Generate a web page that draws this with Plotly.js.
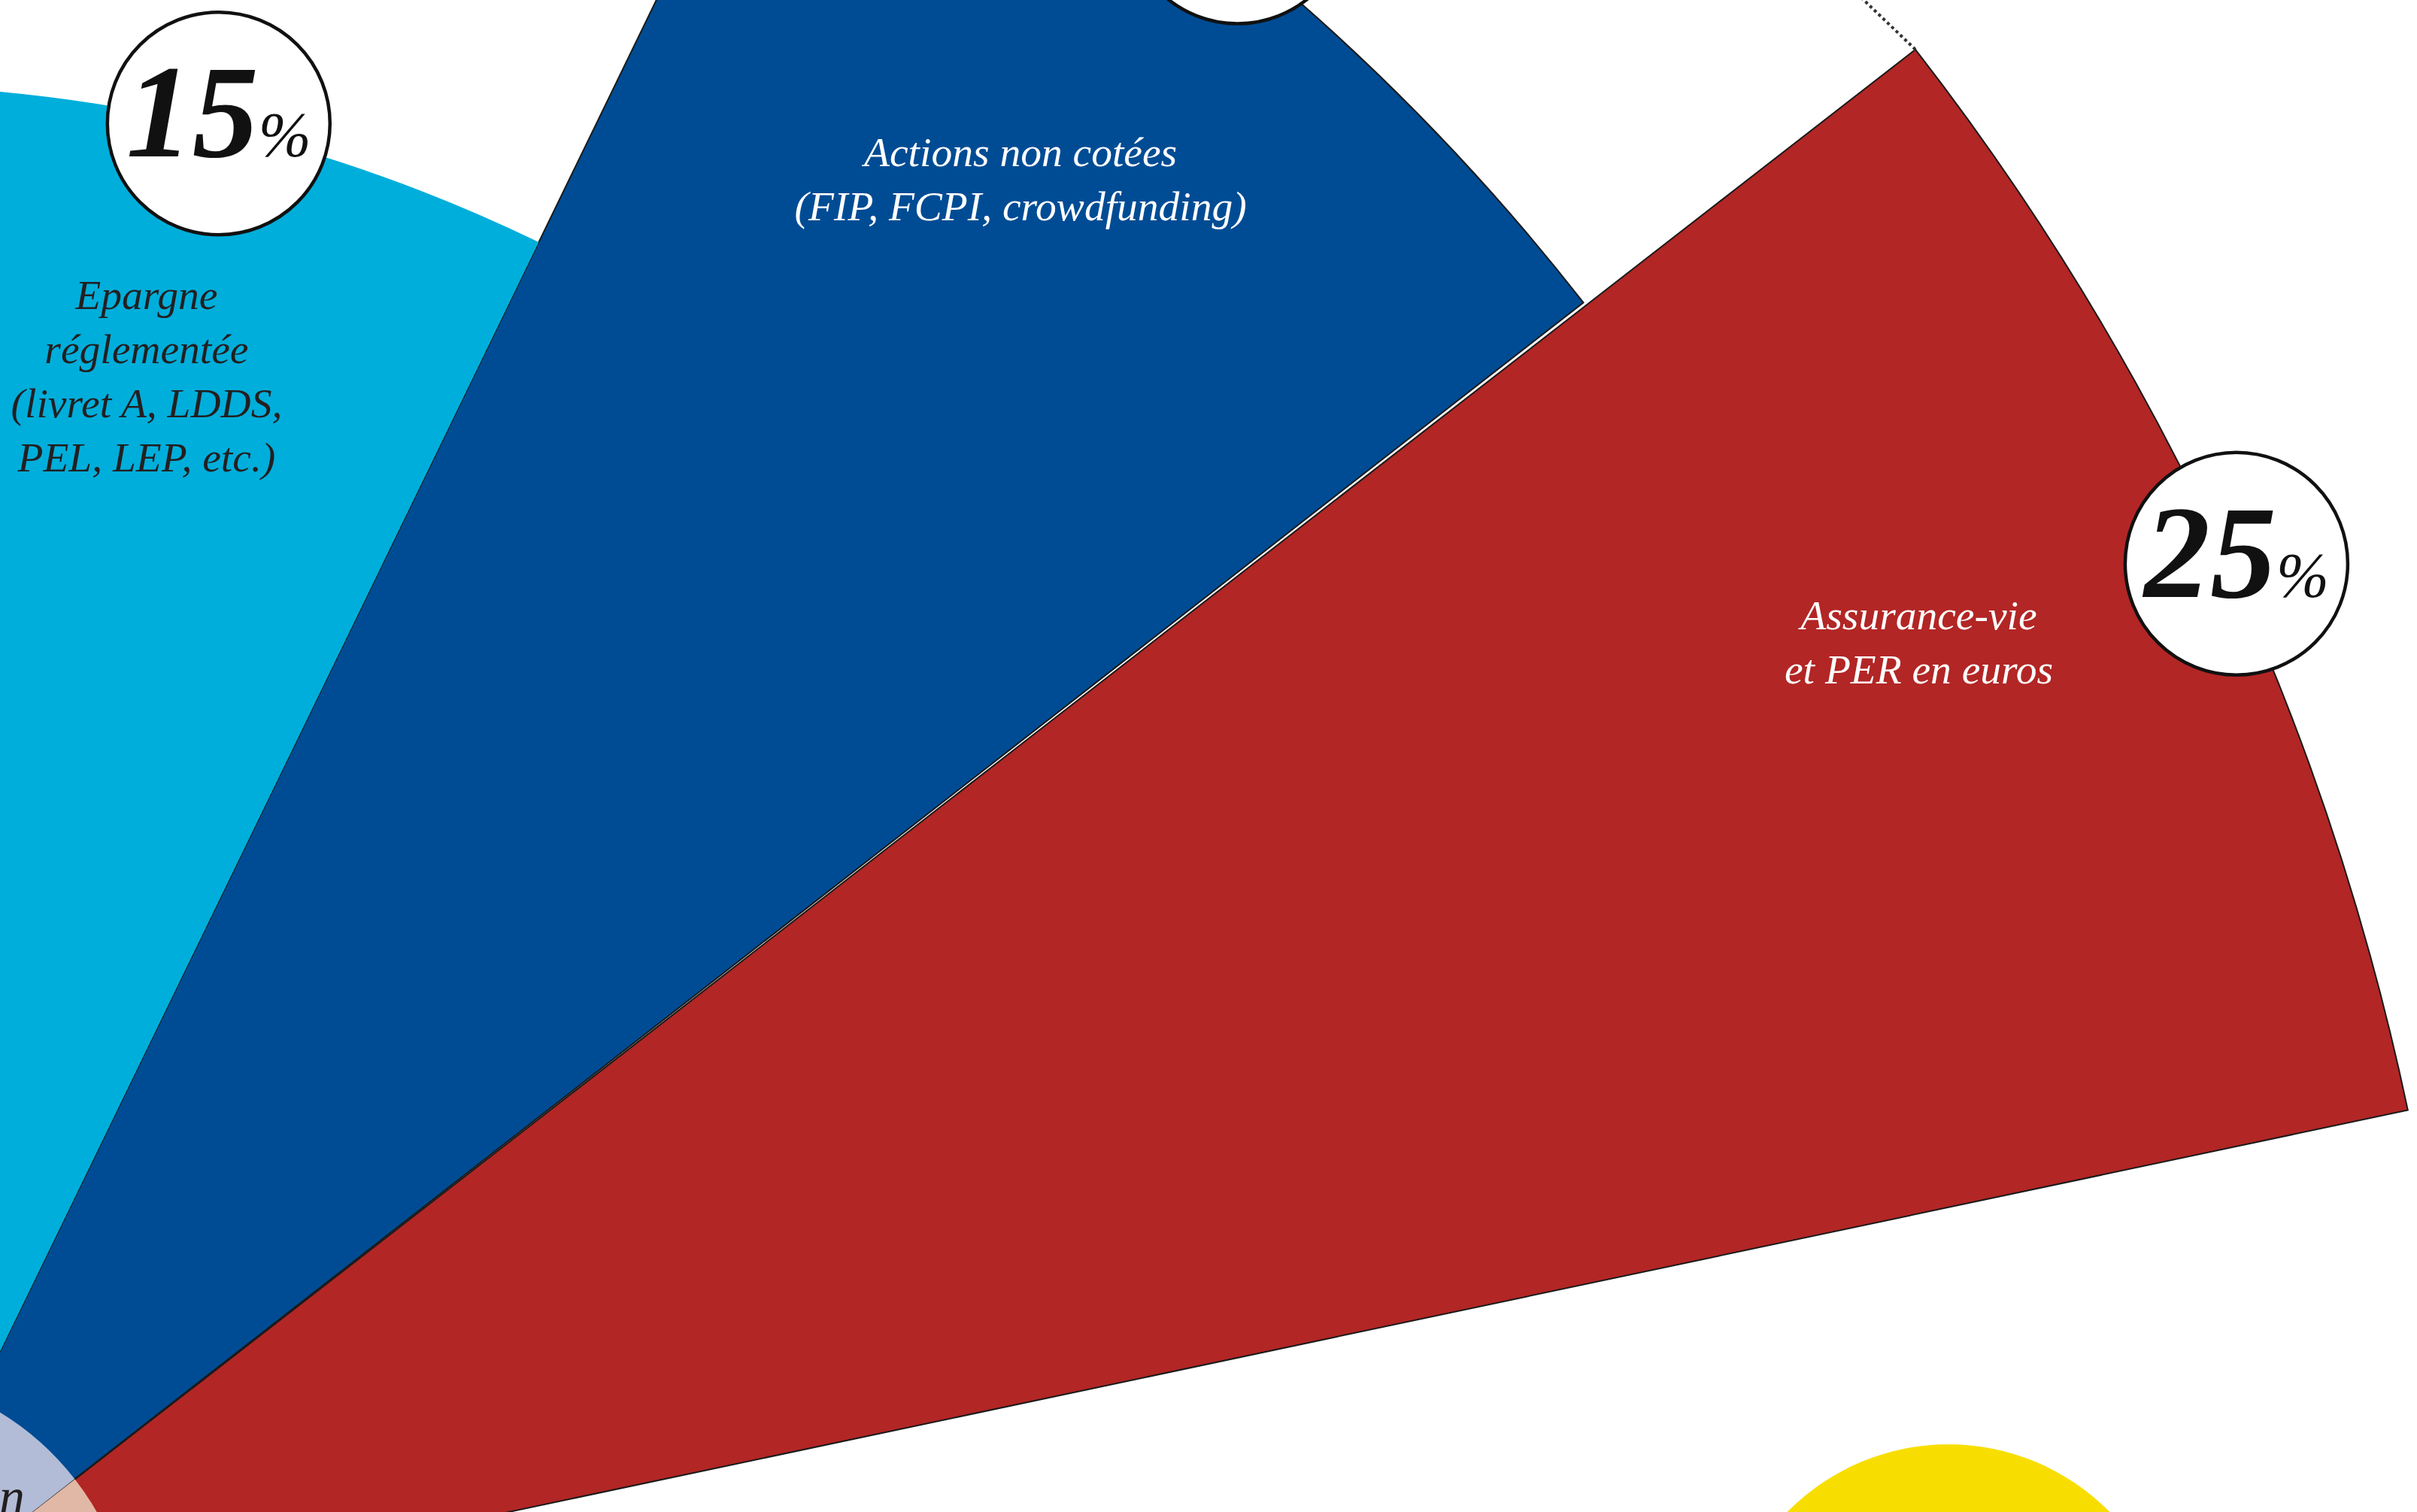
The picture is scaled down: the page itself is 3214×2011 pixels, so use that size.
<!DOCTYPE html>
<html>
<head>
<meta charset="utf-8">
<script src="https://cdn.plot.ly/plotly-3.0.1.min.js"></script>
<style>
  html, body { margin: 0; padding: 0; width: 3214px; height: 2011px; overflow: hidden; background: #ffffff; }
  #chart { position: absolute; }
</style>
</head>
<body>
<div id="chart"></div>
<script>
// ---------- DATA ----------
const categories = [
  'Assurance-vie<br>et PER en euros',
  'Actions non cotées<br>(FIP, FCPI, crowdfunding)',
  'Epargne<br>réglementée<br>(livret A, LDDS,<br>PEL, LEP, etc.)'
];
const shares = [25, 21, 15];               // % (radius of each petal)
const percentLabels = ['25', '21', '15'];

// ---------- GEOMETRY / STYLE ----------
const sectorStart = [11.95, 37.95, 64.1];   // degrees, counter-clockwise from east
const sectorWidth = [25.9, 26.15, 26.0];
const mainColors  = ['#b22625', '#004c94', '#00aedb'];
const innerColors = ['#e1b7a6', '#b2bcd6', '#a9dcef'];
const outlineW    = [2, 2, 0];
const textColors  = ['#ffffff', '#ffffff', '#231f20'];
const labelR      = [21.99, 17.96, 12.49];
const labelTheta  = [25.95, 51.55, 77.07];
const badgeROffset = [0.08, 0.28, 0.04];
const badgeTheta   = [24.53, 51.5, 76.6];
const INNER_R = 2.67;

const PX_PER_UNIT = 138.8;
const CX = -193, CY = 2195;                 // polar centre in window pixels (off canvas)
const S = 7218;                             // square plot size
const R_MAX = S / 2 / PX_PER_UNIT;

const el = document.getElementById('chart');
el.style.left = (CX - S / 2) + 'px';
el.style.top = (CY - S / 2) + 'px';
el.style.width = S + 'px';
el.style.height = S + 'px';

const theta = sectorStart.map((s, i) => s + sectorWidth[i] / 2);

function toPx(r, th) {
  const a = th * Math.PI / 180;
  return [CX + r * PX_PER_UNIT * Math.cos(a), CY - r * PX_PER_UNIT * Math.sin(a)];
}
function toPolar(x, y) {
  const dx = x - CX, dy = CY - y;
  return [Math.sqrt(dx * dx + dy * dy) / PX_PER_UNIT, Math.atan2(dy, dx) * 180 / Math.PI];
}

// dotted leader line from the outer corner of the red petal
const redCorner = [shares[0], sectorStart[0] + sectorWidth[0]];
const cornerPx = toPx(redCorner[0], redCorner[1]);
const leadEnd = toPolar(cornerPx[0] - 0.72 * 170, cornerPx[1] - 0.69 * 170);

const bubble = toPolar(2591, 2221);
const centreTxt = toPolar(16, 1996);

const traces = [
  {
    type: 'barpolar',
    r: shares, theta: theta, width: sectorWidth,
    marker: { color: mainColors, line: { color: '#1a1a1a', width: outlineW } },
    hoverinfo: 'skip'
  },
  {
    type: 'barpolar',
    r: shares.map(() => INNER_R), theta: theta, width: sectorWidth,
    marker: { color: innerColors, line: { width: 0 } },
    hoverinfo: 'skip'
  },
  {
    type: 'scatterpolar', mode: 'lines',
    r: [redCorner[0], leadEnd[0]], theta: [redCorner[1], leadEnd[1]],
    line: { color: '#333333', width: 4, dash: 'dot' },
    hoverinfo: 'skip'
  },
  {
    type: 'scatterpolar', mode: 'markers',
    r: [bubble[0]], theta: [bubble[1]],
    marker: { size: 600, color: '#f8de00', line: { width: 0 } },
    hoverinfo: 'skip'
  },
  {
    type: 'scatterpolar', mode: 'markers+text',
    r: shares.map((v, i) => v + badgeROffset[i]), theta: badgeTheta,
    marker: { size: 296, color: '#ffffff', line: { color: '#111111', width: 4.5 } },
    text: percentLabels.map(p => p + '<span style="font-size:84px;font-weight:normal">%</span>'),
    textposition: 'middle center',
    textfont: { family: 'Liberation Serif, DejaVu Serif, serif', size: 176, color: '#111111', weight: 'bold', style: 'italic' },
    hoverinfo: 'skip'
  },
  {
    type: 'scatterpolar', mode: 'text',
    r: labelR, theta: labelTheta,
    text: categories,
    textposition: 'middle center',
    textfont: { family: 'Liberation Serif, DejaVu Serif, serif', size: 55.5, color: textColors, style: 'italic' },
    hoverinfo: 'skip'
  },
  {
    type: 'scatterpolar', mode: 'text',
    r: [centreTxt[0]], theta: [centreTxt[1]],
    text: ['n'],
    textposition: 'middle center',
    textfont: { family: 'Liberation Serif, DejaVu Serif, serif', size: 68, color: '#231f20', style: 'italic' },
    hoverinfo: 'skip'
  }
];

const layout = {
  width: S, height: S,
  margin: { l: 0, r: 0, t: 0, b: 0, pad: 0 },
  paper_bgcolor: '#ffffff',
  showlegend: false,
  polar: {
    barmode: 'overlay',
    domain: { x: [0, 1], y: [0, 1] },
    bgcolor: 'rgba(0,0,0,0)',
    hole: 0,
    radialaxis: { visible: false, range: [0, R_MAX], showgrid: false, showline: false },
    angularaxis: { visible: false, rotation: 0, direction: 'counterclockwise', showgrid: false, showline: false, ticks: '' }
  }
};

Plotly.newPlot(el, traces, layout, { staticPlot: true, displayModeBar: false });
</script>
</body>
</html>
